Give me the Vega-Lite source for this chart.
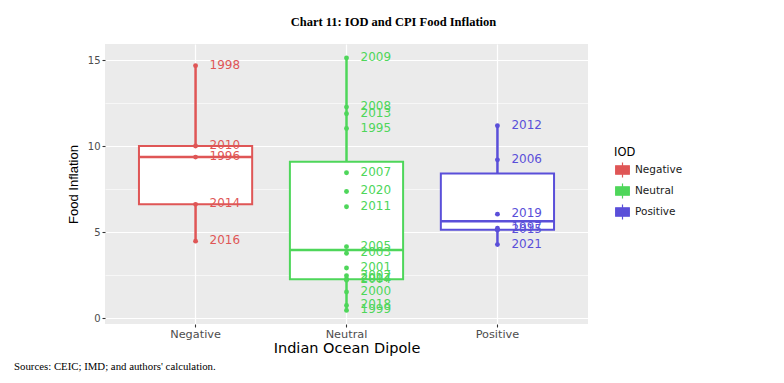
{
  "$schema": "https://vega.github.io/schema/vega-lite/v6.json",
  "padding": {"left": 14, "top": 15, "right": 5, "bottom": 5},
  "background": "white",
  "title": {"text": "Chart 11: IOD and CPI Food Inflation", "font": "Liberation Serif", "fontSize": 12.5, "fontWeight": "bold", "color": "#000000", "anchor": "middle", "dx": 45, "offset": 16},
  "config": {
    "view": {"fill": "#EBEBEB", "stroke": null},
    "axis": {"domain": false, "tickColor": "#333333", "tickSize": 3, "tickWidth": 1.1, "labelColor": "#4D4D4D", "labelFont": "DejaVu Sans", "titleColor": "#000000", "titleFontWeight": "normal", "gridColor": "#FFFFFF", "gridWidth": 1.2, "gridOpacity": 1},
    "legend": {"labelFont": "DejaVu Sans", "labelFontSize": 10.5, "labelColor": "#1A1A1A", "titleFont": "DejaVu Sans", "titleFontSize": 11.5, "titleFontWeight": "normal", "titleColor": "#000000"}
  },
  "vconcat": [
    {
      "width": 483,
      "height": 280,
      "title": {"text": "Sources: CEIC; IMD; and authors' calculation.", "orient": "bottom", "anchor": "start", "frame": "group", "dx": -91, "font": "Liberation Serif", "fontSize": 10.8, "fontWeight": "normal", "color": "#000000", "offset": 6},
      "data": {"values": [
        {"year": "1998", "iod": "Negative", "infl": 14.69},
        {"year": "2010", "iod": "Negative", "infl": 10.02},
        {"year": "1996", "iod": "Negative", "infl": 9.37},
        {"year": "2014", "iod": "Negative", "infl": 6.62},
        {"year": "2016", "iod": "Negative", "infl": 4.48},
        {"year": "2009", "iod": "Neutral", "infl": 15.14},
        {"year": "2008", "iod": "Neutral", "infl": 12.28},
        {"year": "2013", "iod": "Neutral", "infl": 11.89},
        {"year": "1995", "iod": "Neutral", "infl": 11.03},
        {"year": "2007", "iod": "Neutral", "infl": 8.46},
        {"year": "2020", "iod": "Neutral", "infl": 7.37},
        {"year": "2011", "iod": "Neutral", "infl": 6.48},
        {"year": "2005", "iod": "Neutral", "infl": 4.16},
        {"year": "2003", "iod": "Neutral", "infl": 3.78},
        {"year": "2001", "iod": "Neutral", "infl": 2.92},
        {"year": "2002", "iod": "Neutral", "infl": 2.47},
        {"year": "2017", "iod": "Neutral", "infl": 2.28},
        {"year": "2004", "iod": "Neutral", "infl": 2.2},
        {"year": "2000", "iod": "Neutral", "infl": 1.52},
        {"year": "2018", "iod": "Neutral", "infl": 0.74},
        {"year": "1999", "iod": "Neutral", "infl": 0.45},
        {"year": "2012", "iod": "Positive", "infl": 11.19},
        {"year": "2006", "iod": "Positive", "infl": 9.21},
        {"year": "2019", "iod": "Positive", "infl": 6.05},
        {"year": "1997", "iod": "Positive", "infl": 5.23},
        {"year": "2015", "iod": "Positive", "infl": 5.12},
        {"year": "2021", "iod": "Positive", "infl": 4.28}
      ]},
      "resolve": {"axis": {"y": "independent"}},
      "layer": [
        {
          "mark": {"type": "rule", "strokeWidth": 2.5},
          "encoding": {
            "x": {"field": "iod", "type": "nominal", "title": "Indian Ocean Dipole",
              "scale": {"type": "band", "domain": ["Negative", "Neutral", "Positive"], "paddingInner": 0, "paddingOuter": 0.1},
              "axis": {"labelAngle": 0, "labelFontSize": 11.3, "labelPadding": 1, "bandPosition": 0.5, "grid": true, "titleFont": "DejaVu Sans", "titleFontSize": 14.5, "titlePadding": 2}},
            "y": {"aggregate": "min", "field": "infl", "type": "quantitative", "title": "Food Inflation",
              "scale": {"domain": [-0.34, 15.95], "nice": false, "zero": false},
              "axis": {"values": [0, 5, 10, 15], "labelFontSize": 10, "labelPadding": 2, "grid": true, "titleFont": "Liberation Sans", "titleFontSize": 13, "titlePadding": 7}},
            "y2": {"aggregate": "max", "field": "infl"},
            "color": {"field": "iod", "type": "nominal",
              "scale": {"domain": ["Negative", "Neutral", "Positive"], "range": ["#DF5656", "#4ED65A", "#5A4FD9"]},
              "legend": {"title": "IOD", "orient": "none", "legendX": 509, "legendY": 103, "symbolType": "M0,-1V-0.55M0,0.55V1M-0.9,-0.55H0.9V0.55H-0.9ZM-0.9,0H0.9M-0.08,-0.08H0.08V0.08H-0.08Z", "symbolSize": 230, "symbolStrokeWidth": 1.2, "rowPadding": 0, "titlePadding": 3,
                "encode": {"symbols": {"update": {"fill": {"value": "#F2F2F2"}, "fillOpacity": {"value": 1}, "strokeWidth": {"value": 1.2}}}}}}
          }
        },
        {
          "mark": {"type": "bar", "fill": "white", "strokeWidth": 2, "width": {"band": 0.75}},
          "encoding": {
            "x": {"field": "iod", "type": "nominal", "title": "Indian Ocean Dipole"},
            "y": {"aggregate": "q1", "field": "infl", "type": "quantitative", "title": "Food Inflation",
              "axis": {"values": [2.5, 7.5, 12.5], "grid": true, "gridWidth": 0.6, "labels": false, "ticks": false, "domain": false, "title": null, "orient": "right"}},
            "y2": {"aggregate": "q3", "field": "infl"},
            "stroke": {"field": "iod", "type": "nominal", "legend": null,
              "scale": {"domain": ["Negative", "Neutral", "Positive"], "range": ["#DF5656", "#4ED65A", "#5A4FD9"]}}
          }
        },
        {
          "mark": {"type": "tick", "thickness": 2.5, "size": 113, "orient": "horizontal"},
          "encoding": {
            "x": {"field": "iod", "type": "nominal", "title": "Indian Ocean Dipole"},
            "y": {"aggregate": "median", "field": "infl", "type": "quantitative", "title": "Food Inflation", "axis": null},
            "fill": {"field": "iod", "type": "nominal", "legend": null,
              "scale": {"domain": ["Negative", "Neutral", "Positive"], "range": ["#DF5656", "#4ED65A", "#5A4FD9"]}}
          }
        },
        {
          "mark": {"type": "circle", "size": 24, "opacity": 1},
          "encoding": {
            "x": {"field": "iod", "type": "nominal", "title": "Indian Ocean Dipole"},
            "y": {"field": "infl", "type": "quantitative", "title": "Food Inflation", "axis": null},
            "fill": {"field": "iod", "type": "nominal", "legend": null}
          }
        },
        {
          "mark": {"type": "text", "align": "left", "baseline": "middle", "dx": 14, "dy": -1, "fontSize": 12, "font": "DejaVu Sans"},
          "encoding": {
            "x": {"field": "iod", "type": "nominal", "title": "Indian Ocean Dipole"},
            "y": {"field": "infl", "type": "quantitative", "title": "Food Inflation", "axis": null},
            "text": {"field": "year", "type": "nominal"},
            "fill": {"field": "iod", "type": "nominal", "legend": null}
          }
        }
      ]
    }
  ]
}
